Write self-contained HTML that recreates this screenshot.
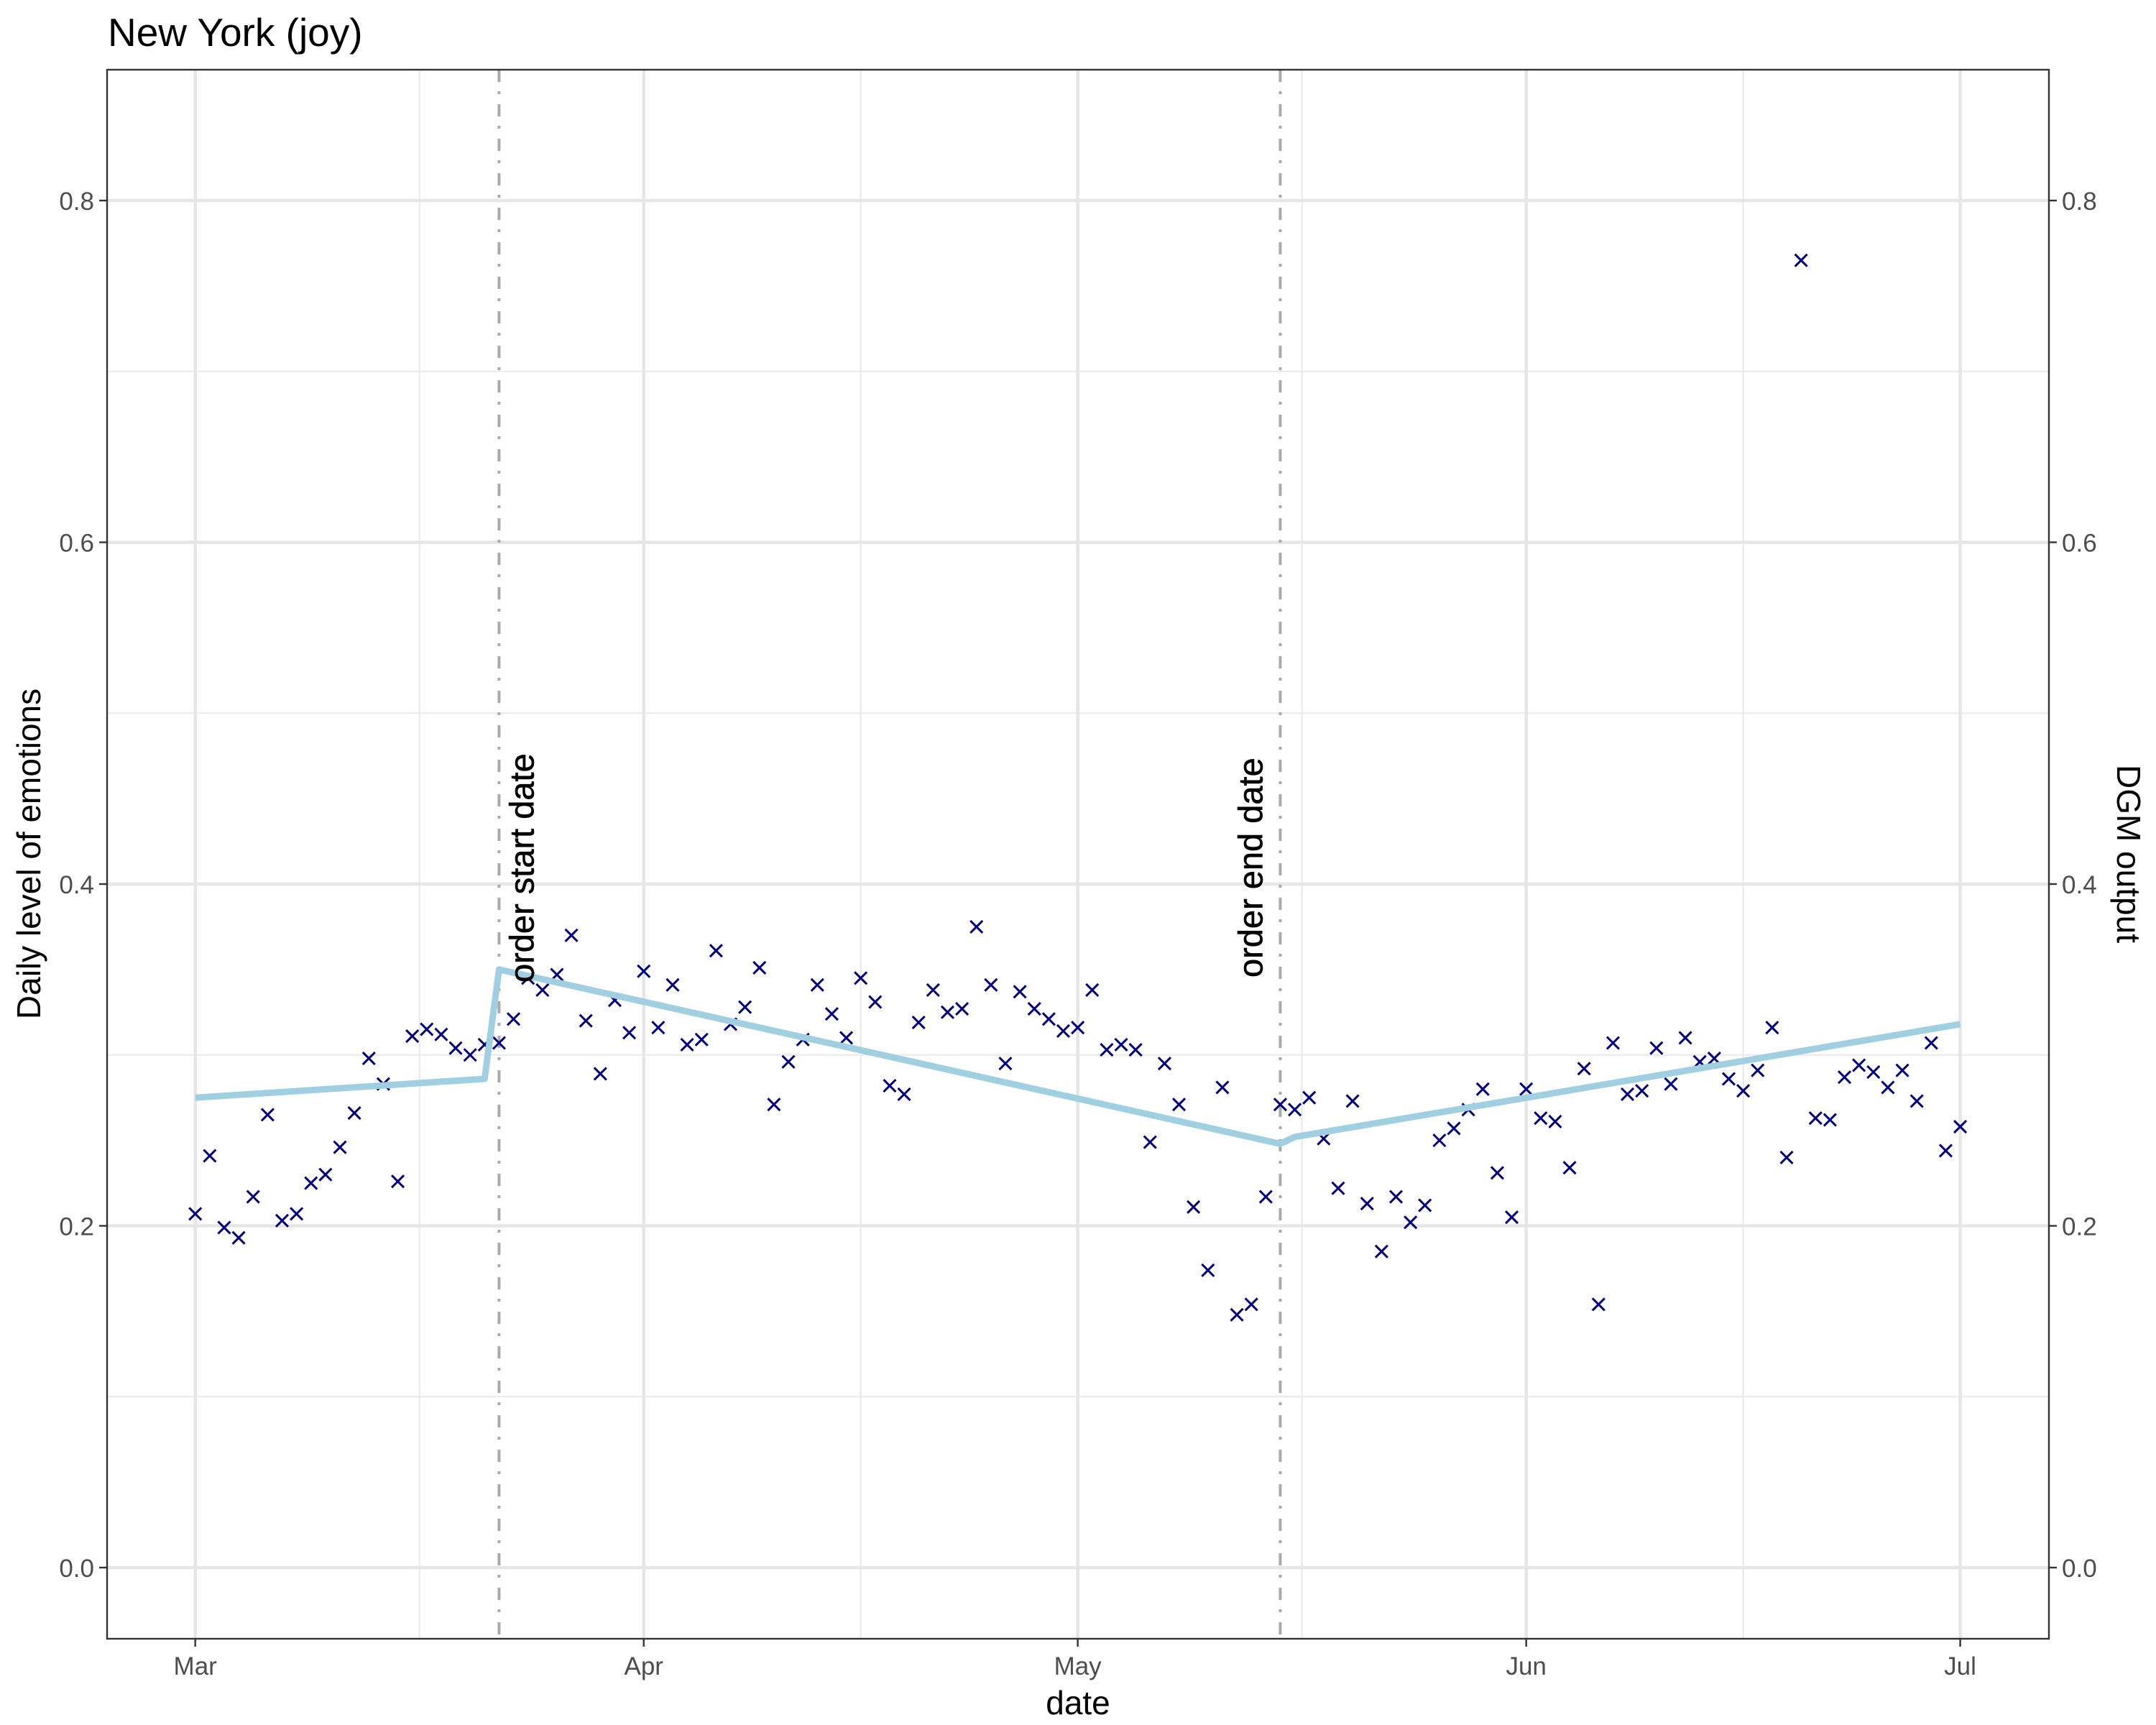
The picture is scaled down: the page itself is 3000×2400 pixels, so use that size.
<!DOCTYPE html>
<html><head><meta charset="utf-8">
<style>
html,body{margin:0;padding:0;background:#fff;}
svg{display:block;font-family:"Liberation Sans",Arial,sans-serif;}
</style></head>
<body>
<svg id="chart" width="3000" height="2400" viewBox="0 0 3000 2400" xmlns="http://www.w3.org/2000/svg">
<rect x="0" y="0" width="3000" height="2400" fill="#fff"/>
<text x="150" y="64" font-size="55" fill="#000">New York (joy)</text>
<g id="grid"></g>
<g id="vlines"></g>
<g id="points"></g>
<g id="dgm"></g>
<g id="annot"></g>
<rect x="149" y="97" width="2702" height="2183" fill="none" stroke="#333" stroke-width="2.4"/>
<g id="axes"></g>
<text x="1500" y="2385" font-size="46" text-anchor="middle" fill="#000">date</text>
<text transform="translate(56,1188) rotate(-90)" font-size="46" text-anchor="middle" fill="#000">Daily level of emotions</text>
<text transform="translate(2946,1188) rotate(90)" font-size="46" text-anchor="middle" fill="#000">DGM output</text>
</svg>
<script>
// data
const pointValues = [0.207,0.241,0.199,0.193,0.217,0.265,0.203,0.207,0.225,0.230,0.246,0.266,0.298,0.283,0.226,0.311,0.315,0.312,0.304,0.300,0.306,0.307,0.321,0.345,0.338,0.347,0.370,0.320,0.289,0.332,0.313,0.349,0.316,0.341,0.306,0.309,0.361,0.318,0.328,0.351,0.271,0.296,0.309,0.341,0.324,0.310,0.345,0.331,0.282,0.277,0.319,0.338,0.325,0.327,0.375,0.341,0.295,0.337,0.327,0.321,0.314,0.316,0.338,0.303,0.306,0.303,0.249,0.295,0.271,0.211,0.174,0.281,0.148,0.154,0.217,0.271,0.268,0.275,0.251,0.222,0.273,0.213,0.185,0.217,0.202,0.212,0.250,0.257,0.268,0.280,0.231,0.205,0.280,0.263,0.261,0.234,0.292,0.154,0.307,0.277,0.279,0.304,0.283,0.310,0.296,0.298,0.286,0.279,0.291,0.316,0.240,0.765,0.263,0.262,0.287,0.294,0.290,0.281,0.291,0.273,0.307,0.244,0.258];
const dgmDays = [0,20,21,75,76,122];
const dgmValues = [0.275,0.286,0.350,0.248,0.252,0.318];
const orderDays = [21,75];
const orderLabels = ["order start date","order end date"];
const yTicks = [0,0.2,0.4,0.6,0.8];
const yTickLabels = ["0.0","0.2","0.4","0.6","0.8"];
const yMinor = [0.1,0.3,0.5,0.7];
const xTickDays = [0,31,61,92,122];
const xTickLabels = ["Mar","Apr","May","Jun","Jul"];
const xMinorDays = [15.5,46,76.5,107];

const NS = "http://www.w3.org/2000/svg";
const X0 = 271.7, DX = 20.13, Y0 = 2181, YS = 2377.5;
const L = 149, R = 2851, T = 97, B = 2280;
function xs(d){ return X0 + d*DX; }
function ys(v){ return Y0 - v*YS; }
function mk(tag, attrs, parent){
  const e = document.createElementNS(NS, tag);
  for (const k in attrs) e.setAttribute(k, attrs[k]);
  parent.appendChild(e);
  return e;
}
const grid = document.getElementById('grid');
yMinor.forEach(v=>{
  const e = mk('line',{x1:L,x2:R,y1:ys(v),y2:ys(v),stroke:'#ebebeb','stroke-width':2.3},grid);
  
  
});
xMinorDays.forEach(d=>{
  const e = mk('line',{x1:xs(d),x2:xs(d),y1:T,y2:B,stroke:'#ebebeb','stroke-width':2.3},grid);
  
  
});
yTicks.forEach(v=>{
  const e = mk('line',{x1:L,x2:R,y1:ys(v),y2:ys(v),stroke:'#e6e6e6','stroke-width':4.5},grid);
  
  
});
xTickDays.forEach(d=>{
  const e = mk('line',{x1:xs(d),x2:xs(d),y1:T,y2:B,stroke:'#e6e6e6','stroke-width':4.5},grid);
  
  
});
const vl = document.getElementById('vlines');
orderDays.forEach(d=>{
  const e = mk('line',{x1:xs(d),x2:xs(d),y1:T,y2:B,stroke:'#aaaaaa','stroke-width':4,'stroke-dasharray':'17,13,4,14'},vl);
  
  
});
const pts = document.getElementById('points');
pointValues.forEach((v,i)=>{
  const cx = xs(i), cy = ys(v), h = 8.5;
  const e = mk('path',{d:`M${cx-h},${cy-h}L${cx+h},${cy+h}M${cx-h},${cy+h}L${cx+h},${cy-h}`,stroke:'#000080','stroke-width':3,fill:'none'},pts);
  
  
});
const dg = document.getElementById('dgm');
const dpts = dgmDays.map((d,i)=>xs(d)+','+ys(dgmValues[i])).join(' ');
const pl = mk('polyline',{points:dpts,fill:'none',stroke:'#9fcfe0','stroke-width':9,'stroke-linejoin':'round'},dg);


const an = document.getElementById('annot');
const labelX = [xs(orderDays[0])+48, xs(orderDays[1])-25];
const labelY = [1367, 1360];
orderLabels.forEach((t,i)=>{
  const e = mk('text',{transform:`translate(${labelX[i]},${labelY[i]}) rotate(-90)`,'font-size':47,fill:'#000',stroke:'#000','stroke-width':0.6},an);
  e.textContent = t;
  
  
});
const ax = document.getElementById('axes');
yTicks.forEach((v,i)=>{
  let e = mk('line',{x1:L-11,x2:L,y1:ys(v),y2:ys(v),stroke:'#333','stroke-width':2.4},ax);
  
  
  e = mk('text',{x:L-18,y:ys(v)+13,'font-size':35,'text-anchor':'end',fill:'#4d4d4d'},ax);
  e.textContent = yTickLabels[i];
  
  
  e = mk('line',{x1:R,x2:R+11,y1:ys(v),y2:ys(v),stroke:'#333','stroke-width':2.4},ax);
  
  
  e = mk('text',{x:R+18,y:ys(v)+13,'font-size':35,'text-anchor':'start',fill:'#4d4d4d'},ax);
  e.textContent = yTickLabels[i];
  
  
});
xTickDays.forEach((d,i)=>{
  let e = mk('line',{x1:xs(d),x2:xs(d),y1:B,y2:B+11,stroke:'#333','stroke-width':2.4},ax);
  
  
  e = mk('text',{x:xs(d),y:B+50,'font-size':35,'text-anchor':'middle',fill:'#4d4d4d'},ax);
  e.textContent = xTickLabels[i];
  
  
});
</script>
</body></html>
